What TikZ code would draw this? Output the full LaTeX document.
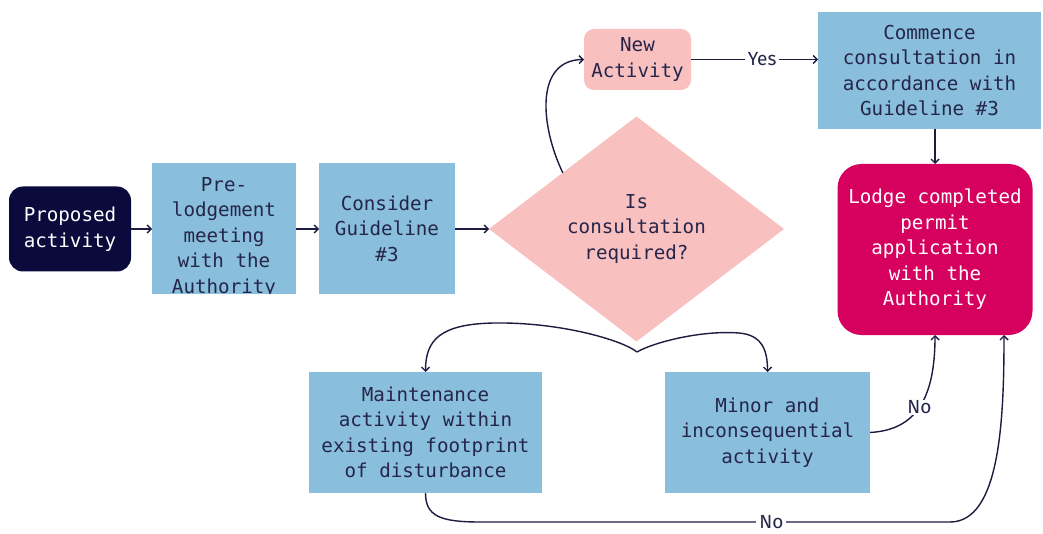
\documentclass[tikz,border=0pt]{standalone}
\usepackage{fontspec}
\newfontfamily\monof{DejaVu Sans Mono}
\newfontfamily\lblf{Fira Sans}
\usetikzlibrary{arrows.meta,shapes.geometric,calc}
\definecolor{navy}{HTML}{0B0A3C}
\definecolor{boxblue}{HTML}{89BEDC}
\definecolor{pinkc}{HTML}{F9C0C0}
\definecolor{magen}{HTML}{D6005E}
\definecolor{txtc}{HTML}{25264A}
\definecolor{linec}{HTML}{1C1B40}
\begin{document}
\begin{tikzpicture}[x=1pt,y=-1pt,
  every node/.style={font=\monof\fontsize{19.2}{25.5}\selectfont, text=txtc, align=center, inner sep=0pt, outer sep=0pt},
  bluebox/.style={fill=boxblue, rectangle},
  navybox/.style={fill=navy, rectangle, rounded corners=14pt, text=white},
  pinkbox/.style={fill=pinkc, rectangle, rounded corners=10pt},
  magbox/.style={fill=magen, rectangle, rounded corners=24pt, text=white},
  conn/.style={draw=linec, line width=1.4pt, -{Straight Barb[length=4pt,width=8pt]}},
  lbl/.style={font=\lblf\fontsize{19}{22}\selectfont, fill=white, inner xsep=3pt, inner ysep=1pt, text=txtc}]
\useasboundingbox (0,0) rectangle (1043,534);
\fill[white] (0,0) rectangle (1043,534);

\node[navybox, minimum width=122pt, minimum height=85pt] (prop) at (70,229) {Proposed\\activity};
\node[bluebox, minimum width=144pt, minimum height=131pt] (pre) at (224,228.5) {};
\begin{scope}
  \clip (pre.south west) rectangle (pre.north east);
  \node (pretext) at (224,237) {Pre-\\lodgement\\meeting\\with the\\Authority};
\end{scope}
\node[bluebox, minimum width=136pt, minimum height=131pt] (cons) at (387,228.5) {Consider\\Guideline\\\#3};
\node[diamond, fill=pinkc, minimum width=295pt, minimum height=225pt] (dia) at (636.5,229) {Is\\consultation\\required?};
\node[pinkbox, minimum width=107pt, minimum height=61pt] (newact) at (637.5,59.5) {New\\Activity};
\node[bluebox, minimum width=223pt, minimum height=117pt] (comm) at (929.5,70.5) {Commence\\consultation in\\accordance with\\Guideline \#3};
\node[magbox, minimum width=195pt, minimum height=171pt] (lodge) at (935,249.5) {Lodge completed\\permit\\application\\with the\\Authority};
\node[bluebox, minimum width=233pt, minimum height=121pt] (maint) at (425.5,432.5) {Maintenance\\activity within\\existing footprint\\of disturbance};
\node[bluebox, minimum width=205pt, minimum height=121pt] (minor) at (767.5,432.5) {Minor and\\inconsequential\\activity};

\draw[conn] (prop.east) -- (prop.east -| pre.west);
\draw[conn] (pre.east |- prop.east) -- (prop.east -| cons.west);
\draw[conn] (cons.east |- dia.west) -- (dia.west);
\draw[conn] (dia.north west) .. controls (540,125) and (535,60) .. (newact.west);
\draw[conn] (newact.east) -- node[lbl, pos=0.56] {Yes} (newact.east -| comm.west);
\draw[conn] (lodge.north |- comm.south) -- (lodge.north);

\coordinate (tip) at (637,352);
\draw[conn] (tip) .. controls (622,340) and (560,322) .. (494,323) .. controls (440,324) and (425.5,340) .. (maint.north);
\draw[conn] (tip) .. controls (652,343) and (700,330) .. (739,333) .. controls (762,335) and (767.5,350) .. (minor.north);

\draw[conn] (minor.east) .. controls (915,430) and (935,400) .. node[lbl, pos=0.5] {No} (lodge.south);

\coordinate (lsr) at ($(lodge.south)+(69,0)$);
\draw[conn] (maint.south) .. controls (425.5,516) and (440,522) .. (480,522) -- node[lbl, pos=0.62, inner ysep=0pt] {No} (950,522) .. controls (1000,522) and (1004,420) .. (lsr);
\end{tikzpicture}
\end{document}
